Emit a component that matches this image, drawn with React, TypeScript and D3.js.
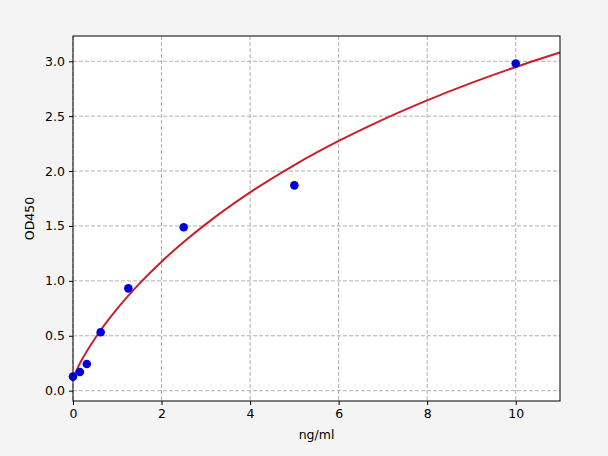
import { useEffect, useRef } from "react";
import * as d3 from "d3";

// measured standards (ng/ml vs OD450)
const concentrations = [0, 0.156, 0.3125, 0.625, 1.25, 2.5, 5, 10];
const odValues = [0.128, 0.17, 0.243, 0.532, 0.932, 1.488, 1.87, 2.98];

// fitted curve
const curveX = [0, 0.05, 0.1, 0.25, 0.5, 0.75, 1, 1.5, 2, 2.5, 3, 4, 5, 6, 7, 8, 9, 10, 11];
const curveY = [0.1, 0.158, 0.203, 0.317, 0.478, 0.619, 0.747, 0.975, 1.175, 1.354, 1.517, 1.806, 2.055, 2.274, 2.469, 2.644, 2.803, 2.948, 3.08];

const xTicks = [0, 2, 4, 6, 8, 10];
const yTicks = [0.0, 0.5, 1.0, 1.5, 2.0, 2.5, 3.0];

const WIDTH = 608;
const HEIGHT = 456;
const MARGIN = { top: 36, right: 48, bottom: 55, left: 73 };

export default function App() {
  const svgRef = useRef<SVGSVGElement | null>(null);

  useEffect(() => {
    const svg = svgRef.current;
    if (!svg) return;
    svg.innerHTML = "";

    const innerW = WIDTH - MARGIN.left - MARGIN.right;
    const innerH = HEIGHT - MARGIN.top - MARGIN.bottom;

    const root = d3.select(svg)
      .attr("width", WIDTH)
      .attr("height", HEIGHT)
      .style("font-family", "'DejaVu Sans', sans-serif");

    root.append("rect")
      .attr("width", WIDTH).attr("height", HEIGHT)
      .attr("fill", "#f4f4f4");

    const g = root.append("g")
      .attr("transform", `translate(${MARGIN.left},${MARGIN.top})`);

    const x = d3.scaleLinear().domain([0, 11]).range([0, innerW]);
    const y = d3.scaleLinear().domain([-0.094, 3.23]).range([innerH, 0]);

    g.append("rect")
      .attr("width", innerW).attr("height", innerH)
      .attr("fill", "#fff");

    // grid
    g.append("g")
      .selectAll("line")
      .data(xTicks)
      .join("line")
      .attr("x1", (d) => x(d)).attr("x2", (d) => x(d))
      .attr("y1", 0).attr("y2", innerH)
      .attr("stroke", "#b0b0b0")
      .attr("stroke-width", 1)
      .attr("stroke-dasharray", "4,2");

    g.append("g")
      .selectAll("line")
      .data(yTicks)
      .join("line")
      .attr("x1", 0).attr("x2", innerW)
      .attr("y1", (d) => y(d)).attr("y2", (d) => y(d))
      .attr("stroke", "#b0b0b0")
      .attr("stroke-width", 1)
      .attr("stroke-dasharray", "4,2");

    // fitted curve
    const line = d3.line<number>()
      .x((_, i) => x(curveX[i]))
      .y((d) => y(d))
      .curve(d3.curveMonotoneX);

    g.append("path")
      .datum(curveY)
      .attr("d", line)
      .attr("fill", "none")
      .attr("stroke", "#c8202a")
      .attr("stroke-width", 2);

    // points
    g.append("g")
      .selectAll("circle")
      .data(odValues)
      .join("circle")
      .attr("cx", (_, i) => x(concentrations[i]))
      .attr("cy", (d) => y(d))
      .attr("r", 4.3)
      .attr("fill", "#0000dd");

    // spines
    g.append("rect")
      .attr("width", innerW).attr("height", innerH)
      .attr("fill", "none")
      .attr("stroke", "#000")
      .attr("stroke-width", 1);

    // axes
    const xAxis = g.append("g")
      .attr("transform", `translate(0,${innerH})`)
      .call(d3.axisBottom(x).tickValues(xTicks).tickSize(4).tickPadding(4).tickFormat(d3.format("d")));
    const yAxis = g.append("g")
      .call(d3.axisLeft(y).tickValues(yTicks).tickSize(4).tickPadding(4).tickFormat(d3.format(".1f")));

    [xAxis, yAxis].forEach((ax) => {
      ax.select(".domain").remove();
      ax.selectAll("text")
        .attr("fill", "#000")
        .style("font-size", "12.5px")
        .style("font-family", "'DejaVu Sans', sans-serif");
      ax.selectAll("line").attr("stroke", "#000");
    });

    // axis labels
    g.append("text")
      .attr("x", innerW / 2)
      .attr("y", innerH + 38)
      .attr("text-anchor", "middle")
      .style("font-size", "12.5px")
      .text("ng/ml");

    g.append("text")
      .attr("transform", "rotate(-90)")
      .attr("x", -innerH / 2)
      .attr("y", -39)
      .attr("text-anchor", "middle")
      .style("font-size", "12.5px")
      .text("OD450");
  }, []);

  return (
    <div style={{ position: "fixed", left: 0, top: 0 }}>
      <svg ref={svgRef} style={{ display: "block" }} />
    </div>
  );
}
